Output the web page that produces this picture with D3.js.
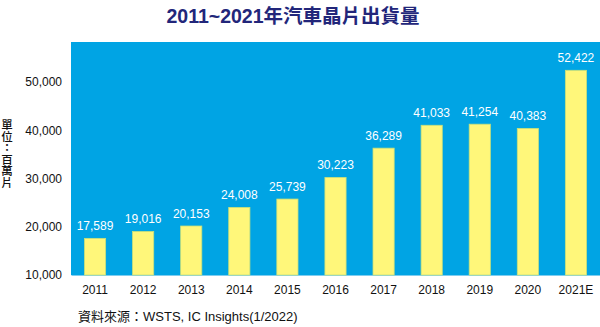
<!DOCTYPE html>
<head>
<meta charset="utf-8">
<title>2011~2021年汽車晶片出貨量</title>
<script src="https://d3js.org/d3.v7.min.js"></script>
<style>
body { margin: 0; background: #fff; }
text { font-family: "Liberation Sans", Arial, "Noto Sans CJK TC", sans-serif; }
</style>
</head>
<body>
<div id="chart"></div>
<script>
// data
var years = ["2011","2012","2013","2014","2015","2016","2017","2018","2019","2020","2021E"];
var shipments = [17589, 19016, 20153, 24008, 25739, 30223, 36289, 41033, 41254, 40383, 52422];
var yTicks = [10000, 20000, 30000, 40000, 50000];

var width = 600, height = 327;
var plot = {left: 71, right: 600, top: 42, bottom: 275};

var svg = d3.select("#chart").append("svg")
    .attr("width", width)
    .attr("height", height);

// title
svg.append("text")
    .attr("x", 293)
    .attr("y", 23)
    .attr("text-anchor", "middle")
    .style("font-family", "'Liberation Sans', 'Noto Sans CJK TC', sans-serif")
    .style("font-size", "19.5px")
    .style("font-weight", "bold")
    .attr("fill", "#22267a")
    .text("2011~2021年汽車晶片出貨量");

// blue plot background
svg.append("rect")
    .attr("x", plot.left)
    .attr("y", plot.top)
    .attr("width", plot.right - plot.left)
    .attr("height", plot.bottom - plot.top)
    .attr("fill", "#00a4e4");

// scales
var x = d3.scaleBand()
    .domain(years)
    .range([plot.left, plot.right])
    .paddingInner(0.56)
    .paddingOuter(0.28);

var y = d3.scaleLinear()
    .domain([10000, 58290])
    .range([plot.bottom, plot.top]);

// y axis
var yAxis = svg.append("g")
    .attr("transform", "translate(" + plot.left + ",0)")
    .call(d3.axisLeft(y).tickValues(yTicks).tickFormat(d3.format(",")).tickSize(0).tickPadding(9));
yAxis.select(".domain").remove();
yAxis.selectAll("text")
    .style("font-size", "12px")
    .style("font-family", "'Liberation Sans', Arial, sans-serif")
    .attr("fill", "#111");

// x axis
var xAxis = svg.append("g")
    .attr("transform", "translate(0," + plot.bottom + ")")
    .call(d3.axisBottom(x).tickSize(0).tickPadding(10));
xAxis.select(".domain").attr("stroke", "#7fcdf0");
xAxis.selectAll("text")
    .style("font-size", "12px")
    .style("font-family", "'Liberation Sans', Arial, sans-serif")
    .attr("fill", "#111");

// bars
svg.selectAll(".bar")
    .data(shipments)
    .enter().append("rect")
    .attr("class", "bar")
    .attr("x", function(d, i) { return x(years[i]); })
    .attr("y", function(d) { return y(d); })
    .attr("width", x.bandwidth())
    .attr("height", function(d) { return y(10000) - y(d); })
    .attr("fill", "#fff77a")
    .attr("stroke", "#c8e07a")
    .attr("stroke-width", 0.8);

// value labels
svg.selectAll(".val")
    .data(shipments)
    .enter().append("text")
    .attr("class", "val")
    .attr("x", function(d, i) { return x(years[i]) + x.bandwidth() / 2; })
    .attr("y", function(d) { return y(d) - 8; })
    .attr("text-anchor", "middle")
    .style("font-size", "12px")
    .style("font-family", "'Liberation Sans', Arial, sans-serif")
    .attr("fill", "#ffffff")
    .text(d3.format(","));

// unit label (vertical)
svg.append("text")
    .attr("x", 7)
    .attr("y", 119)
    .style("writing-mode", "vertical-rl")
    .style("font-family", "'Noto Sans CJK TC', sans-serif")
    .style("font-size", "11.5px")
    .style("font-weight", "500")
    .attr("fill", "#111")
    .text("單位：百萬片");

// source
svg.append("text")
    .attr("x", 78)
    .attr("y", 321)
    .style("font-size", "13px")
    .style("font-family", "'Liberation Sans', 'Noto Sans CJK TC', sans-serif")
    .attr("fill", "#111")
    .text("資料來源：WSTS, IC Insights(1/2022)");
</script>
</body>
